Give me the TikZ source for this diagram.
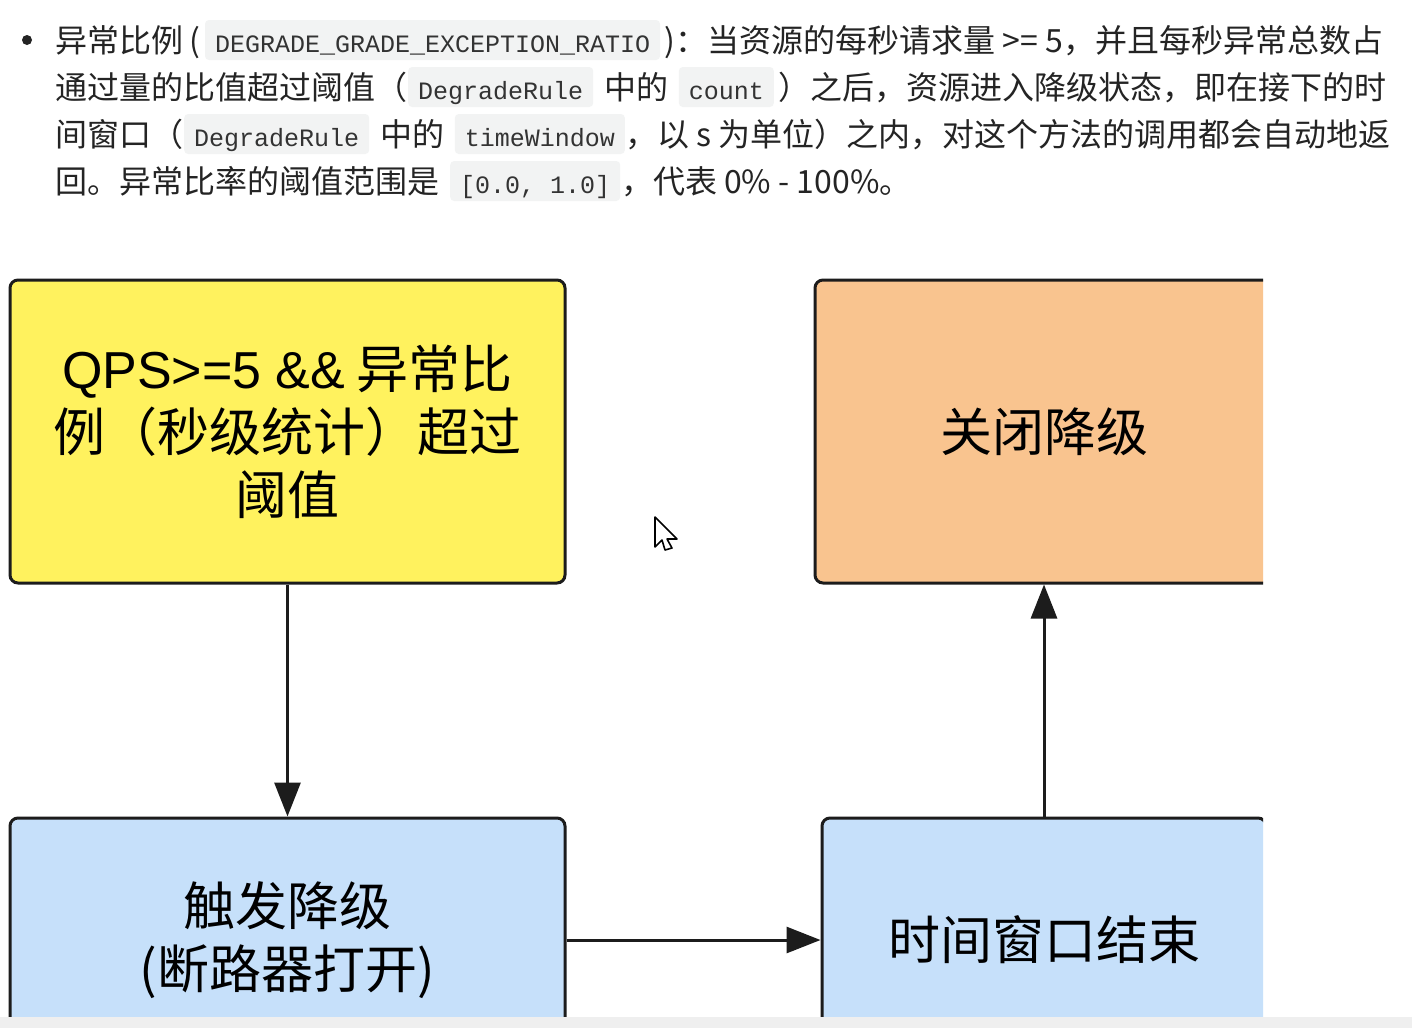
\documentclass[tikz,border=0pt]{standalone}
\usepackage{fontspec}
\setmainfont{Noto Sans CJK SC}
\newfontfamily\codefont{Liberation Mono}
\newfontfamily\latinfont{Liberation Sans}
\usepackage{tikz}
\usetikzlibrary{arrows.meta, positioning}
\definecolor{ink}{HTML}{242424}
\definecolor{codeink}{HTML}{333333}
\definecolor{chipbg}{HTML}{F2F3F3}
\definecolor{edge}{HTML}{1C1C1C}
\definecolor{yellowfill}{HTML}{FFF25E}
\definecolor{orangefill}{HTML}{F9C48F}
\definecolor{bluefill}{HTML}{C6E0FA}
\definecolor{stripgray}{HTML}{EFEFEF}

\begin{document}
\begin{tikzpicture}[x=0.5pt, y=-0.5pt,
    box/.style = {draw=edge, line width=1.5pt, rounded corners=4pt, inner sep=0pt, align=center, text=black, font=\fontsize{26}{31.5}\selectfont},
    para/.style = {anchor=base west, inner sep=0pt, text=ink, font=\fontsize{16}{16}\selectfont},
    chip/.style = {anchor=base west, fill=chipbg, rounded corners=2pt, inner xsep=5pt, inner ysep=4pt, text height=12pt, text depth=0pt, text=codeink, font=\codefont\fontsize{12.5}{12.5}\selectfont},
    flow/.style = {draw=edge, line width=1.5pt, -{Triangle[length=17pt, width=13pt]}}]
    \useasboundingbox (0,0) rectangle (1412,1028);
    \fill[white] (0,0) rectangle (1412,1028);

    \fill[ink] (27,40) circle (2.5pt);
    \node[para] (l1a) at (55,52) {异常比例\hspace{3pt}(};
    \node[chip] (l1b) at ([xshift=2pt]l1a.base east) {DEGRADE\_GRADE\_EXCEPTION\_RATIO};
    \node[para] (l1c) at ([xshift=2pt]l1b.base east) {)：当资源的每秒请求量 >= 5，并且每秒异常总数占};

    \node[para] (l2a) at (55,99) {通过量的比值超过阈值（};
    \node[chip] (l2b) at (l2a.base east) {DegradeRule};
    \node[para] (l2c) at ([xshift=5pt]l2b.base east) {中的};
    \node[chip] (l2d) at ([xshift=5pt]l2c.base east) {count};
    \node[para] (l2e) at ([xshift=2pt]l2d.base east) {）之后，资源进入降级状态，即在接下的时};

    \node[para] (l3a) at (55,146) {间窗口（};
    \node[chip] (l3b) at (l3a.base east) {DegradeRule};
    \node[para] (l3c) at ([xshift=5pt]l3b.base east) {中的};
    \node[chip] (l3d) at ([xshift=5pt]l3c.base east) {timeWindow};
    \node[para] (l3e) at (l3d.base east) {，以 s 为单位）之内，对这个方法的调用都会自动地返};

    \node[para] (l4a) at (55,193) {回。异常比率的阈值范围是};
    \node[chip] (l4b) at ([xshift=5pt]l4a.base east) {[0.0, 1.0]};
    \node[para] (l4c) at (l4b.base east) {，代表 0\% - 100\%。};

    \begin{scope}
        \clip (0,230) rectangle (1263,1017);
        \node[box, fill=yellowfill, minimum width=277.5pt, minimum height=151.5pt] (exceed) at (287.5,431.5) {{\latinfont QPS>=5 \&\&} 异常比\\例（秒级统计）超过\\阈值};
        \node[box, fill=orangefill, minimum width=229pt, minimum height=151.5pt] (close) [right of=exceed, node distance=378.25pt] {关闭降级};
        \node[box, fill=bluefill, minimum width=277.5pt, minimum height=122pt] (trigger) [below of=exceed, node distance=254.25pt] {触发降级\\(断路器打开)};
        \node[box, fill=bluefill, minimum width=222pt, minimum height=122pt] (window) [right of=trigger, node distance=378.25pt] {时间窗口结束};

        \draw[flow] (exceed) -- (trigger);
        \draw[flow] (trigger) -- (window);
        \draw[flow] (window) -- (close);
    \end{scope}

    \draw[fill=white, line width=0.8pt, line join=round] (655,517) -- (655,547) -- (662,540) -- (665,550) -- (672,548) -- (667,539) -- (677,539) -- cycle;
    \fill[stripgray] (0,1017) rectangle (1412,1028);
\end{tikzpicture}
\end{document}
